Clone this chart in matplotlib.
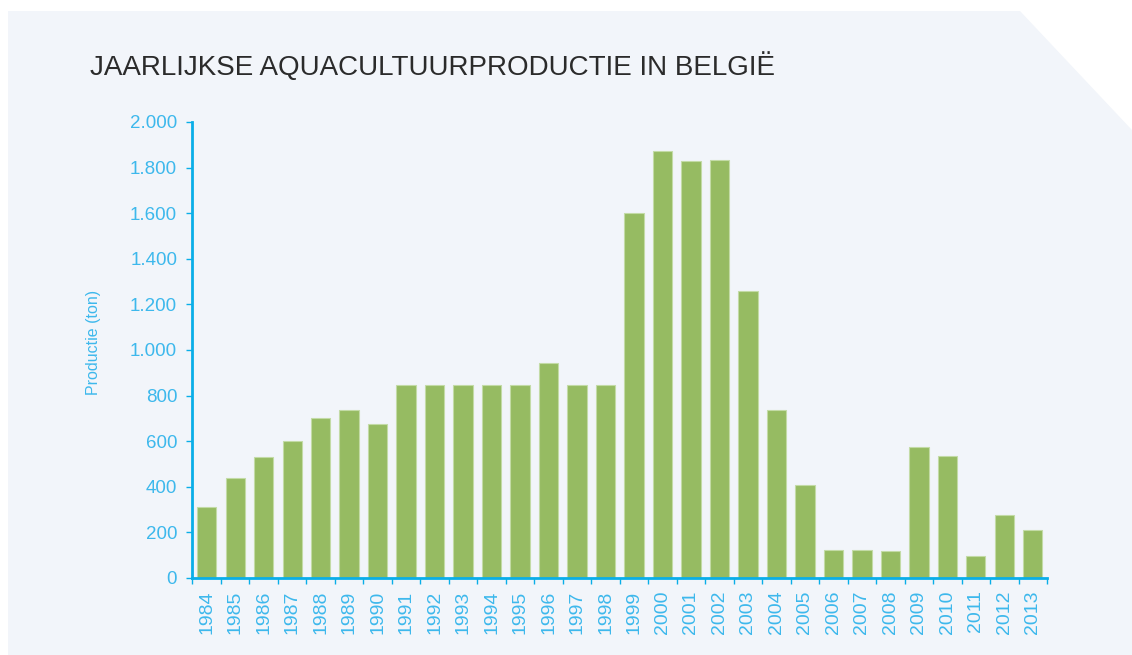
import matplotlib.pyplot as plt
from matplotlib.patches import Polygon
import numpy as np

plt.rcParams['font.family'] = ['Liberation Sans', 'DejaVu Sans']

# data
years = [str(y) for y in range(1984, 2014)]
productie = [310, 440, 530, 600, 700, 735, 675, 845, 845, 845,
             845, 845, 945, 845, 845, 1600, 1875, 1830, 1835, 1260,
             735, 410, 125, 125, 120, 575, 535, 95, 275, 210]
y_ticks = [0, 200, 400, 600, 800, 1000, 1200, 1400, 1600, 1800, 2000]
y_labels = ['0', '200', '400', '600', '800', '1.000', '1.200', '1.400', '1.600', '1.800', '2.000']

W, H = 1132, 655
cyan = '#0aaee8'
label_cyan = '#3db8ec'

fig = plt.figure(figsize=(W / 100, H / 100), dpi=100)
fig.patch.set_facecolor('white')

# achtergrondpaneel met afgeschuinde hoek
pts = [(8, 11), (1020, 11), (1132, 130), (1132, 655), (8, 655)]
pts = [(x / W, 1 - y / H) for x, y in pts]
fig.patches.append(Polygon(pts, closed=True, transform=fig.transFigure,
                           facecolor='#f2f5fa', edgecolor='none', zorder=-5))

fig.text(90 / W, 1 - 67 / H, 'JAARLIJKSE AQUACULTUURPRODUCTIE IN BELGIË',
         fontsize=20, color='#2b2b2b', va='center', ha='left')

ax = fig.add_axes([192.5 / W, 1 - 578 / H, (1047 - 192.5) / W, (578 - 122) / H])
ax.set_facecolor('none')

x = np.arange(len(years))
ax.bar(x, productie, width=0.68, color='#96bb62', edgecolor='#c3dba6', linewidth=0.8, zorder=2)

ax.set_xlim(-0.5, len(years) - 0.5)
ax.set_ylim(0, 2000)
ax.set_yticks(y_ticks)
ax.set_yticklabels(y_labels)
ax.set_xticks(x)
ax.set_xticklabels(years, rotation=90)
ax.set_xticks(np.arange(-0.5, len(years)), minor=True)

ax.tick_params(axis='x', which='major', length=0, pad=9, labelsize=14, labelcolor=label_cyan)
ax.tick_params(axis='x', which='minor', length=4, width=1, color=cyan, direction='out')
ax.tick_params(axis='y', length=4, width=1, color=cyan, pad=7, labelsize=13.5, labelcolor=label_cyan)

for side in ['top', 'right']:
    ax.spines[side].set_visible(False)
for side in ['left', 'bottom']:
    ax.spines[side].set_color(cyan)
    ax.spines[side].set_linewidth(2)

ax.set_ylabel('Productie (ton)', fontsize=11.5, color=label_cyan)
ax.yaxis.set_label_coords(-0.107, 0.5175)

fig.savefig('out.png', dpi=100)
